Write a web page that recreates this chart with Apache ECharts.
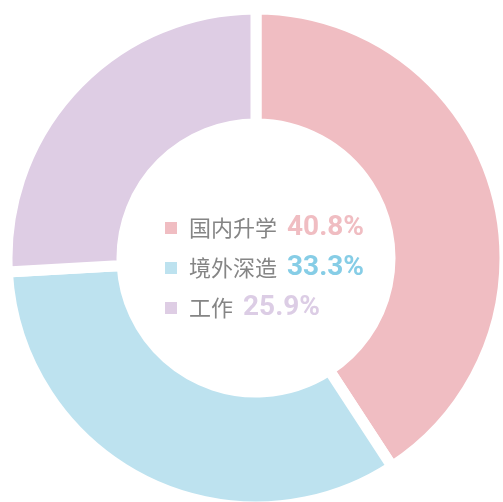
<!DOCTYPE html>
<html>
<head>
<meta charset="utf-8">
<style>
  html, body { margin: 0; padding: 0; background: #ffffff; }
  #chart { width: 503px; height: 502px; }
</style>
<script src="https://cdn.jsdelivr.net/npm/echarts@6/dist/echarts.min.js"></script>
</head>
<body>
<div id="chart"></div>
<script>
// Graduate destinations (percent)
const categories = ['国内升学', '境外深造', '工作'];
const shares = [40.8, 33.3, 25.9];
const sliceColors = ['#F0BDC2', '#BDE2EF', '#DECDE4'];
const valueColors = ['#F0BDC2', '#86CDE6', '#DCCDE5'];

const chart = echarts.init(document.getElementById('chart'), null, { renderer: 'canvas' });

const rich = {
  n: {
    fontFamily: '"Noto Sans CJK SC", sans-serif',
    fontSize: 22,
    color: '#858585',
    lineHeight: 28,
    padding: [0, 10, 0, 6]
  }
};
categories.forEach((c, i) => {
  rich['v' + i] = {
    fontFamily: 'Roboto, sans-serif',
    fontWeight: 'bold',
    fontSize: 28,
    color: valueColors[i],
    lineHeight: 28
  };
});

chart.setOption({
  animation: false,
  backgroundColor: '#ffffff',
  color: sliceColors,
  legend: {
    orient: 'vertical',
    left: 158,
    top: 209,
    itemWidth: 14,
    itemHeight: 14,
    itemGap: 12,
    icon: 'rect',
    selectedMode: false,
    data: categories,
    formatter: function (name) {
      const i = categories.indexOf(name);
      return '{n|' + name + '}{v' + i + '|' + shares[i].toFixed(1) + '%}';
    },
    textStyle: { rich: rich }
  },
  series: [{
    type: 'pie',
    center: [256, 258],
    radius: [134, 249],
    startAngle: 90,
    clockwise: true,
    silent: true,
    label: { show: false },
    labelLine: { show: false },
    itemStyle: { borderColor: '#ffffff', borderWidth: 11 },
    data: categories.map((c, i) => ({ name: c, value: shares[i] }))
  }]
});
</script>
</body>
</html>
